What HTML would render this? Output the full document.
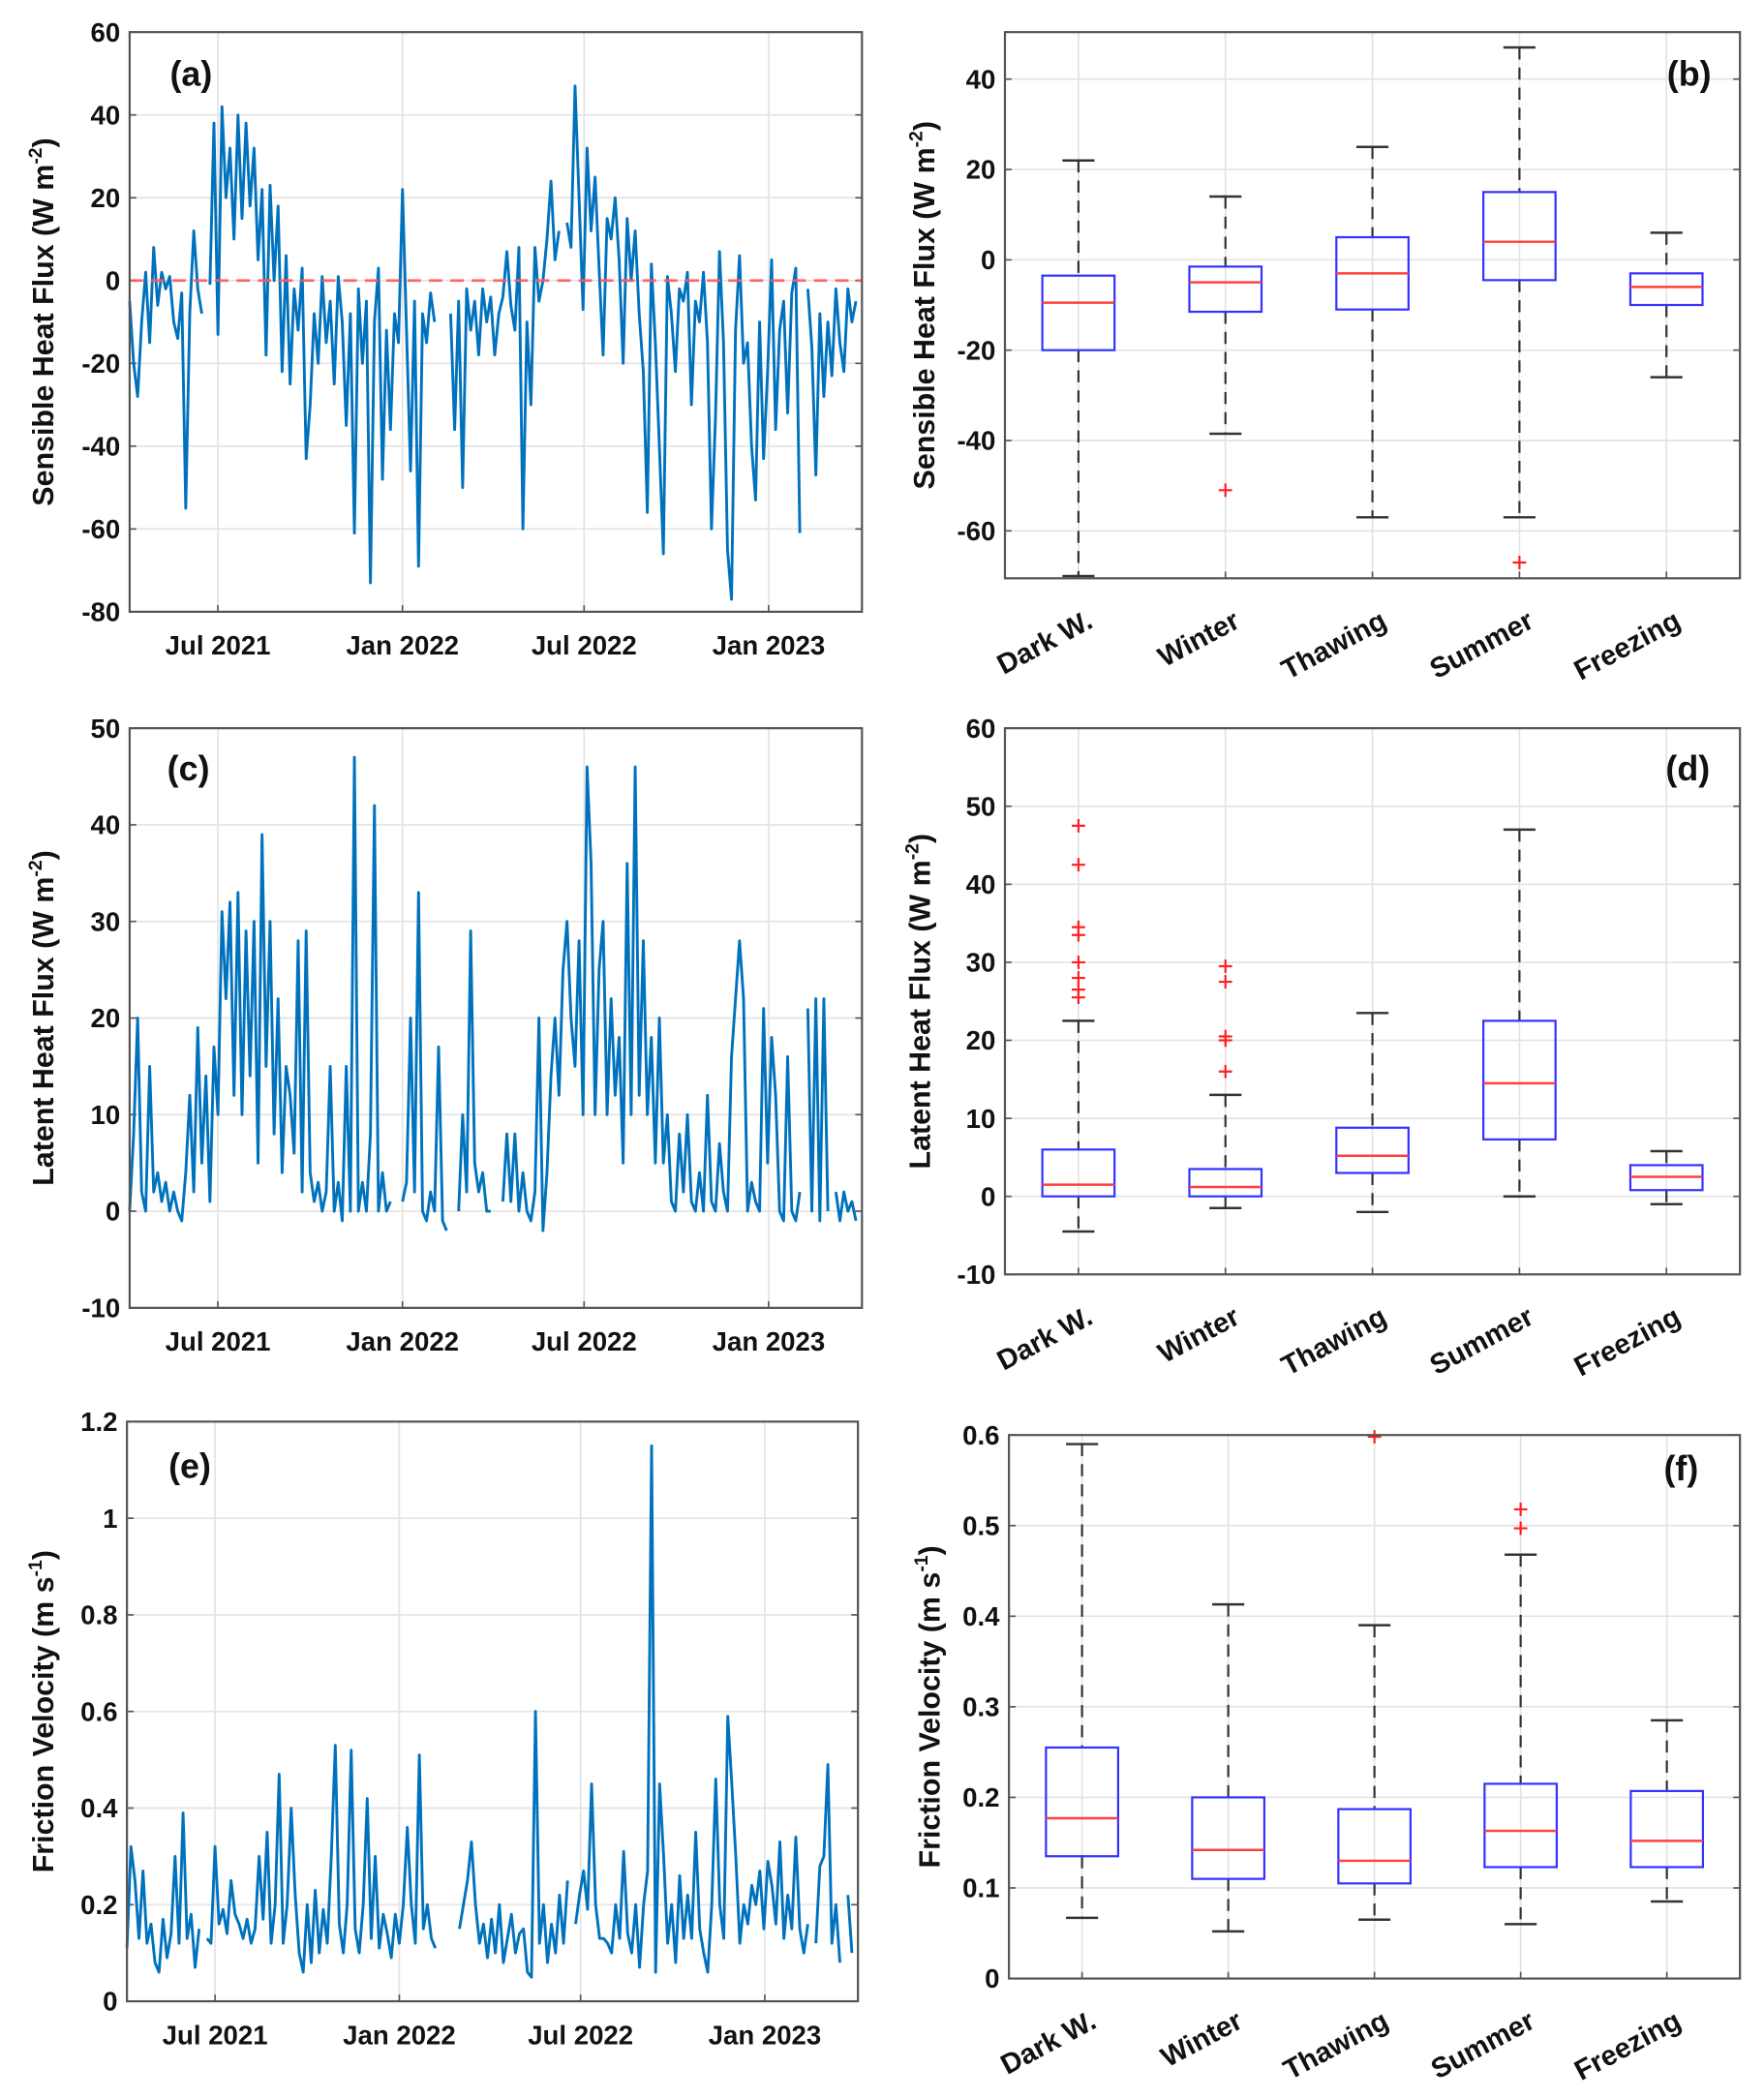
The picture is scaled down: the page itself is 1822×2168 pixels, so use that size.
<!DOCTYPE html>
<html><head><meta charset="utf-8"><style>
html,body{margin:0;padding:0;background:#fff;}
svg{display:block;}
text{font-family:"Liberation Sans",Arial,sans-serif;font-weight:bold;fill:#111;}
</style></head><body>
<svg id="fig" width="1822" height="2168" viewBox="0 0 1320 1568" preserveAspectRatio="none" xmlns="http://www.w3.org/2000/svg"></svg>
<script>
// ---------- DATA ----------
const dateTickDays = [88, 272, 453, 637];
const dateTickLabels = ["Jul 2021", "Jan 2022", "Jul 2022", "Jan 2023"];
const sampleStepDays = 4;
const totalDays = 730;
const sensibleFlux = [-5,-20,-28,-10,2,-15,8,-6,2,-2,1,-10,-14,-3,-55,-8,12,-2,-8,null,-1,38,-13,42,20,32,10,40,15,38,18,32,5,22,-18,23,0,18,-22,6,-25,-2,-12,3,-43,-30,-8,-20,1,-15,-5,-25,1,-10,-35,-8,-61,-2,-20,-5,-73,-10,3,-48,-12,-36,-8,-15,22,-12,-46,-5,-69,-8,-15,-3,-10,null,null,null,-8,-36,-5,-50,-2,-12,-5,-18,-2,-10,-4,-18,-8,-4,7,-6,-12,8,-60,-10,-30,8,-5,0,10,24,5,12,null,14,8,47,20,-7,32,12,25,3,-18,15,10,20,5,-20,15,0,12,-8,-22,-56,4,-15,-40,-66,1,-8,-22,-2,-5,2,-30,-5,-10,2,-15,-60,-33,7,-15,-65,-77,-12,6,-20,-15,-40,-53,-10,-43,-22,5,-36,-12,-5,-32,-3,3,-61,null,-2,-16,-47,-8,-28,-10,-23,-2,-15,-22,-2,-10,-5];
const latentFlux = [0,8,20,2,0,15,2,4,1,3,0,2,0,-1,4,12,2,19,5,14,1,17,10,31,22,32,12,33,10,29,14,30,5,39,15,30,8,22,4,15,12,6,28,2,29,4,1,3,0,2,15,0,3,-1,15,0,47,0,3,0,8,42,0,4,0,1,null,null,1,3,20,2,33,0,-1,2,0,17,-1,-2,null,null,0,10,2,29,5,2,4,0,0,null,null,1,8,1,8,0,4,0,-1,2,20,-2,4,14,20,12,25,30,20,15,28,10,46,36,10,25,30,10,22,12,18,5,36,10,46,12,28,10,18,5,20,5,10,1,0,8,2,10,1,0,4,0,12,1,0,7,2,0,16,22,28,22,0,3,1,0,21,5,18,12,0,-1,16,0,-1,2,null,21,0,22,-1,22,0,null,2,-1,2,0,1,-1];
const frictionVel = [0.11,0.32,0.25,0.13,0.27,0.12,0.16,0.08,0.06,0.17,0.09,0.14,0.3,0.12,0.39,0.13,0.18,0.07,0.15,null,0.13,0.12,0.32,0.16,0.19,0.14,0.25,0.18,0.16,0.13,0.17,0.12,0.15,0.3,0.17,0.35,0.12,0.2,0.47,0.12,0.2,0.4,0.22,0.1,0.06,0.2,0.08,0.23,0.1,0.19,0.12,0.3,0.53,0.16,0.1,0.2,0.52,0.15,0.1,0.2,0.42,0.13,0.3,0.11,0.18,0.14,0.09,0.18,0.12,0.2,0.36,0.2,0.12,0.51,0.15,0.2,0.13,0.11,null,null,null,null,null,0.15,0.2,0.25,0.33,0.2,0.12,0.16,0.09,0.17,0.1,0.2,0.08,0.13,0.18,0.1,0.14,0.15,0.06,0.05,0.6,0.12,0.2,0.08,0.16,0.1,0.22,0.12,0.25,null,0.16,0.22,0.27,0.19,0.45,0.2,0.13,0.13,0.12,0.1,0.2,0.13,0.31,0.14,0.1,0.2,0.07,0.2,0.27,1.15,0.06,0.45,0.3,0.12,0.2,0.08,0.26,0.13,0.22,0.13,0.35,0.15,0.1,0.06,0.2,0.46,0.2,0.13,0.59,0.45,0.3,0.12,0.2,0.16,0.24,0.2,0.27,0.15,0.29,0.24,0.16,0.33,0.13,0.22,0.15,0.34,0.15,0.1,0.16,null,0.12,0.28,0.3,0.49,0.12,0.2,0.08,null,0.22,0.1];

const seasons = ["Dark W.", "Winter", "Thawing", "Summer", "Freezing"];
const shWhiskHi = [22, 14, 25, 47, 6];
const shQ3 = [-3.5, -1.5, 5, 15, -3];
const shMed = [-9.5, -5, -3, 4, -6];
const shQ1 = [-20, -11.5, -11, -4.5, -10];
const shWhiskLo = [-70, -38.5, -57, -57, -26];
const shOutliers = [[], [-51], [], [-67], []];
const lhWhiskHi = [22.5, 13, 23.5, 47, 5.8];
const lhQ3 = [6, 3.5, 8.8, 22.5, 4];
const lhMed = [1.5, 1.2, 5.2, 14.5, 2.5];
const lhQ1 = [0, 0, 3, 7.3, 0.8];
const lhWhiskLo = [-4.5, -1.5, -2, 0, -1];
const lhOutliers = [[47.5,42.5,34.5,33.5,30,28,26.5,25.5],[29.5,27.5,20.5,20,16],[],[],[]];
const uWhiskHi = [0.59, 0.413, 0.39, 0.468, 0.285];
const uQ3 = [0.255, 0.2, 0.187, 0.215, 0.207];
const uMed = [0.177, 0.142, 0.13, 0.163, 0.152];
const uQ1 = [0.135, 0.11, 0.105, 0.123, 0.123];
const uWhiskLo = [0.067, 0.052, 0.065, 0.06, 0.085];
const uOutliers = [[], [], [0.598], [0.518, 0.497], []];

const shTicks = [-80,-60,-40,-20,0,20,40,60];
const lhTicks = [-10,0,10,20,30,40,50];
const uTicks = [0,0.2,0.4,0.6,0.8,1,1.2];
const shBoxTicks = [-60,-40,-20,0,20,40];
const lhBoxTicks = [-10,0,10,20,30,40,50,60];
const uBoxTicks = [0,0.1,0.2,0.3,0.4,0.5,0.6];

// ---------- DRAWING ----------
const NS = "http://www.w3.org/2000/svg";
const svg = document.getElementById("fig");
function mk(tag, attrs, parent) {
  const e = document.createElementNS(NS, tag);
  for (const k in attrs) e.setAttribute(k, attrs[k]);
  (parent || svg).appendChild(e);
  return e;
}
function ylabel(g, x, y, main, sup, tail) {
  const t = mk("text", {x: x, y: y, "font-size": 22, "text-anchor": "middle", transform: "rotate(-90 " + x + " " + y + ")"}, g);
  
  
  t.appendChild(document.createTextNode(main));
  const s = mk("tspan", {"font-size": 14, dy: -9}, t);
  s.textContent = sup;
  const r = mk("tspan", {dy: 9}, t);
  r.textContent = tail;
}
function frame(g, L, T, R, B, ticksY, ys, tickFmt) {
  ticksY.forEach(v => {
    const y = ys(v);
    const gl = mk("line", {x1: L, x2: R, y1: y, y2: y, stroke: "#e3e3e3", "stroke-width": 1.2}, g);
    
    
    const tk = mk("line", {x1: L, x2: L + 5, y1: y, y2: y, stroke: "#555", "stroke-width": 1.2}, g);
    
    
    const tk2 = mk("line", {x1: R, x2: R - 5, y1: y, y2: y, stroke: "#555", "stroke-width": 1.2}, g);
    
    
    const tl = mk("text", {x: L - 7, y: y + 7, "font-size": 20, "text-anchor": "end"}, g);
    
    
    tl.textContent = tickFmt ? tickFmt(v) : String(v);
  });
}
function border(g, L, T, R, B) {
  const b = mk("rect", {x: L, y: T, width: R - L, height: B - T, fill: "none", stroke: "#555", "stroke-width": 1.6}, g);
  
  
}
function panelLabel(g, x, y, txt) {
  const t = mk("text", {x: x, y: y, "font-size": 26, "text-anchor": "middle", fill: "#000"}, g);
  
  
  t.textContent = txt;
}

function timePanel(cfg) {
  const g = mk("g", {});
  
  
  const {L, T, R, B, ymin, ymax} = cfg;
  const xs = d => L + d / totalDays * (R - L);
  const ys = v => B - (v - ymin) / (ymax - ymin) * (B - T);
  frame(g, L, T, R, B, cfg.ticks, ys, cfg.fmt);
  dateTickDays.forEach((d, i) => {
    const x = xs(d);
    const gl = mk("line", {x1: x, x2: x, y1: T, y2: B, stroke: "#e3e3e3", "stroke-width": 1.2}, g);
    
    
    const tk = mk("line", {x1: x, x2: x, y1: B, y2: B - 5, stroke: "#555", "stroke-width": 1.2}, g);
    
    
    const tl = mk("text", {x: x, y: B + 32, "font-size": 20, "text-anchor": "middle"}, g);
    
    
    tl.textContent = dateTickLabels[i];
  });
  let d = "", pen = false;
  cfg.data.forEach((v, i) => {
    if (v === null) { pen = false; return; }
    const x = xs(i * sampleStepDays), y = ys(v);
    d += (pen ? "L" : "M") + x.toFixed(1) + " " + y.toFixed(1);
    pen = true;
  });
  const p = mk("path", {d: d, fill: "none", stroke: "#0072bd", "stroke-width": 2.1, "stroke-linejoin": "round"}, g);
  
  
  if (cfg.zeroLine) {
    const z2 = mk("line", {x1: L, x2: R, y1: ys(0), y2: ys(0), stroke: "#ff5a5a", "stroke-width": 2, "stroke-dasharray": "10,6", opacity: 0.9}, g);
    
    
  }
  border(g, L, T, R, B);
  panelLabel(g, cfg.labX, cfg.labY, cfg.label);
  ylabel(g, cfg.ylx, (T + B) / 2, cfg.ytitle, cfg.sup, ")");
}

function boxPanel(cfg) {
  const g = mk("g", {});
  
  
  const {L, T, R, B, ymin, ymax} = cfg;
  const xs = c => L + (c + 0.5) / seasons.length * (R - L);
  const ys = v => B - (v - ymin) / (ymax - ymin) * (B - T);
  frame(g, L, T, R, B, cfg.ticks, ys, cfg.fmt);
  seasons.forEach((s, i) => {
    const x = xs(i);
    const gl = mk("line", {x1: x, x2: x, y1: T, y2: B, stroke: "#e3e3e3", "stroke-width": 1.2}, g);
    
    
    const tk = mk("line", {x1: x, x2: x, y1: B, y2: B - 5, stroke: "#555", "stroke-width": 1.2}, g);
    
    
    const tx = x + 12, ty = B + 36;
    const tl = mk("text", {x: tx, y: ty, "font-size": 21, "text-anchor": "end", transform: "rotate(-28 " + tx + " " + ty + ")"}, g);
    
    
    tl.textContent = s;
  });
  const hw = 27, cw = 12;
  seasons.forEach((s, i) => {
    const x = xs(i);
    const w1 = mk("line", {x1: x, x2: x, y1: ys(cfg.hi[i]), y2: ys(cfg.q3[i]), stroke: "#333", "stroke-width": 1.6, "stroke-dasharray": "9,6"}, g);
    
    
    const w2 = mk("line", {x1: x, x2: x, y1: ys(cfg.q1[i]), y2: ys(cfg.lo[i]), stroke: "#333", "stroke-width": 1.6, "stroke-dasharray": "9,6"}, g);
    
    
    const c1 = mk("line", {x1: x - cw, x2: x + cw, y1: ys(cfg.hi[i]), y2: ys(cfg.hi[i]), stroke: "#333", "stroke-width": 1.8}, g);
    
    
    const c2 = mk("line", {x1: x - cw, x2: x + cw, y1: ys(cfg.lo[i]), y2: ys(cfg.lo[i]), stroke: "#333", "stroke-width": 1.8}, g);
    
    
    const bx = mk("rect", {x: x - hw, y: ys(cfg.q3[i]), width: 2 * hw, height: ys(cfg.q1[i]) - ys(cfg.q3[i]), fill: "none", stroke: "#3333ff", "stroke-width": 1.6}, g);
    
    
    const md = mk("line", {x1: x - hw, x2: x + hw, y1: ys(cfg.med[i]), y2: ys(cfg.med[i]), stroke: "#ff4040", "stroke-width": 1.8}, g);
    
    
    cfg.out[i].forEach(v => {
      const y = ys(v);
      const o = mk("path", {d: "M" + (x - 5) + " " + y + "H" + (x + 5) + "M" + x + " " + (y - 5) + "V" + (y + 5), stroke: "#ff2020", "stroke-width": 1.6}, g);
      
      
    });
  });
  border(g, L, T, R, B);
  panelLabel(g, cfg.labX, cfg.labY, cfg.label);
  ylabel(g, cfg.ylx, (T + B) / 2, cfg.ytitle, cfg.sup, ")");
}

const f1 = v => (Math.round(v * 10) / 10).toString();
timePanel({name: "panel-a-sensible-heat-timeseries", seriesName: "sensible-heat-series", L: 97, T: 24, R: 645, B: 457, ymin: -80, ymax: 60, ticks: shTicks, data: sensibleFlux, zeroLine: true, label: "(a)", labX: 143, labY: 64, ylx: 40, ytitle: "Sensible Heat Flux (W m", sup: "-2"});
boxPanel({name: "panel-b-sensible-heat-boxplot", L: 752, T: 24, R: 1302, B: 432, ymin: -70.5, ymax: 50.4, ticks: shBoxTicks, hi: shWhiskHi, q3: shQ3, med: shMed, q1: shQ1, lo: shWhiskLo, out: shOutliers, label: "(b)", labX: 1264, labY: 64, ylx: 699, ytitle: "Sensible Heat Flux (W m", sup: "-2"});
timePanel({name: "panel-c-latent-heat-timeseries", seriesName: "latent-heat-series", L: 97, T: 544, R: 645, B: 977, ymin: -10, ymax: 50, ticks: lhTicks, data: latentFlux, zeroLine: false, label: "(c)", labX: 141, labY: 583, ylx: 40, ytitle: "Latent Heat Flux (W m", sup: "-2"});
boxPanel({name: "panel-d-latent-heat-boxplot", L: 752, T: 544, R: 1302, B: 952, ymin: -10, ymax: 60, ticks: lhBoxTicks, hi: lhWhiskHi, q3: lhQ3, med: lhMed, q1: lhQ1, lo: lhWhiskLo, out: lhOutliers, label: "(d)", labX: 1263, labY: 583, ylx: 696, ytitle: "Latent Heat Flux (W m", sup: "-2"});
timePanel({name: "panel-e-friction-velocity-timeseries", seriesName: "friction-velocity-series", L: 95, T: 1062, R: 642, B: 1495, ymin: 0, ymax: 1.2, ticks: uTicks, fmt: f1, data: frictionVel, zeroLine: false, label: "(e)", labX: 142, labY: 1104, ylx: 40, ytitle: "Friction Velocity (m s", sup: "-1"});
boxPanel({name: "panel-f-friction-velocity-boxplot", L: 755, T: 1072, R: 1302, B: 1478, ymin: 0, ymax: 0.6, ticks: uBoxTicks, fmt: f1, hi: uWhiskHi, q3: uQ3, med: uMed, q1: uQ1, lo: uWhiskLo, out: uOutliers, label: "(f)", labX: 1258, labY: 1106, ylx: 703, ytitle: "Friction Velocity (m s", sup: "-1"});
</script>
</body></html>
